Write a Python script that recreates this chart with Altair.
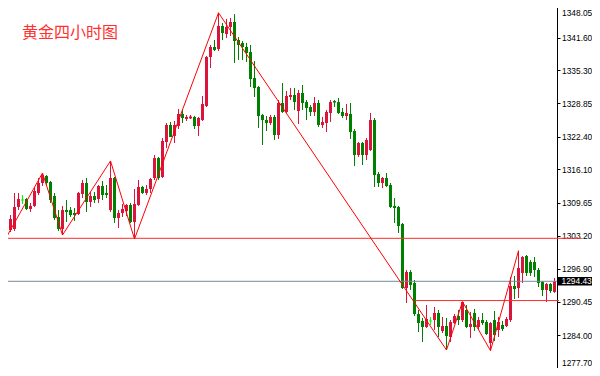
import altair as alt
import pandas as pd

# ---------------- data ----------------
title_text = "黄金四小时图"

opens = [1306.68, 1303.78, 1304.36, 1304.56, 1308.81, 1310.17, 1310.36, 1308.43, 1309.01, 1311.52,
         1313.46, 1314.81, 1313.65, 1310.94, 1306.88, 1304.56, 1308.23, 1308.23, 1307.65, 1307.46,
         1311.33, 1313.46, 1309.78, 1310.94, 1310.36, 1312.88, 1311.52, 1308.23, 1314.42, 1306.68,
         1307.65, 1308.04, 1309.20, 1305.91, 1309.20, 1312.68, 1311.52, 1312.30, 1314.42, 1318.29,
         1314.62, 1321.39, 1324.68, 1322.56, 1324.49, 1326.82, 1325.85, 1325.95, 1326.24, 1324.49,
         1325.65, 1328.36, 1337.85, 1339.78, 1339.40, 1343.85, 1342.30, 1343.65, 1344.62, 1341.14,
         1340.56, 1339.78, 1338.81, 1333.78, 1332.04, 1326.62, 1325.65, 1325.07, 1326.24, 1322.75,
         1328.94, 1327.20, 1330.10, 1330.49, 1327.39, 1330.88, 1329.13, 1328.17, 1327.20, 1328.94,
         1324.68, 1325.07, 1327.01, 1329.33, 1329.13, 1327.20, 1326.43, 1326.82, 1323.52, 1318.87,
         1321.20, 1318.87, 1319.84, 1325.65, 1315.20, 1313.46, 1314.42, 1313.07, 1309.01, 1308.81,
         1305.52, 1293.13, 1296.23, 1294.10, 1288.10, 1286.75, 1285.58, 1286.75, 1286.94, 1288.29,
         1284.81, 1285.78, 1283.65, 1286.36, 1287.71, 1286.94, 1288.87, 1285.58, 1288.29, 1285.58,
         1286.94, 1286.55, 1282.49, 1286.94, 1285.00, 1285.97, 1285.78, 1286.94, 1293.52, 1293.13,
         1296.04, 1299.33, 1298.17, 1298.17, 1296.62, 1294.30, 1292.75, 1293.91, 1292.36]

highs = [1307.84, 1305.33, 1307.26, 1311.52, 1311.52, 1311.13, 1310.55, 1309.59, 1312.68, 1314.42,
         1315.39, 1315.00, 1313.85, 1311.52, 1308.23, 1309.01, 1310.17, 1308.81, 1308.62, 1311.72,
         1314.04, 1314.42, 1311.72, 1311.72, 1313.07, 1313.85, 1313.07, 1317.72, 1314.62, 1308.23,
         1309.39, 1309.39, 1309.59, 1312.30, 1314.04, 1312.88, 1313.07, 1314.42, 1318.87, 1318.49,
         1322.17, 1325.07, 1325.26, 1325.46, 1327.78, 1327.59, 1326.62, 1326.62, 1326.43, 1326.24,
         1330.30, 1338.04, 1340.17, 1341.14, 1346.40, 1344.43, 1345.20, 1345.40, 1346.17, 1341.72,
         1340.94, 1340.56, 1340.17, 1337.07, 1332.23, 1326.82, 1326.43, 1326.62, 1326.62, 1329.52,
         1332.81, 1331.27, 1331.85, 1331.85, 1331.46, 1332.43, 1329.52, 1328.55, 1330.10, 1329.52,
         1326.24, 1327.59, 1329.52, 1329.52, 1329.91, 1327.97, 1328.75, 1328.94, 1323.91, 1321.39,
         1321.39, 1322.17, 1327.01, 1326.04, 1315.59, 1314.62, 1315.39, 1313.46, 1310.55, 1309.01,
         1305.72, 1296.62, 1296.62, 1294.68, 1288.87, 1287.33, 1289.84, 1287.52, 1289.46, 1288.87,
         1287.52, 1287.33, 1286.94, 1288.10, 1288.87, 1290.48, 1289.84, 1288.49, 1289.07, 1287.52,
         1288.29, 1286.94, 1286.55, 1288.68, 1287.52, 1286.75, 1287.52, 1295.26, 1295.46, 1300.35,
         1299.33, 1299.52, 1298.55, 1299.13, 1297.00, 1294.49, 1294.10, 1294.10, 1295.07]

lows = [1303.59, 1303.00, 1303.97, 1304.17, 1308.23, 1309.39, 1308.23, 1307.84, 1308.81, 1311.13,
        1312.88, 1313.07, 1309.59, 1306.30, 1304.17, 1303.39, 1305.91, 1306.88, 1306.11, 1307.26,
        1310.55, 1307.84, 1308.81, 1309.59, 1309.59, 1310.17, 1310.55, 1307.84, 1305.72, 1304.75,
        1306.88, 1307.07, 1305.72, 1302.62, 1309.01, 1311.33, 1311.13, 1311.52, 1314.04, 1314.04,
        1314.42, 1320.23, 1322.36, 1321.20, 1323.91, 1325.07, 1325.46, 1325.85, 1323.91, 1322.56,
        1325.46, 1328.17, 1335.72, 1339.01, 1339.01, 1341.14, 1341.52, 1341.91, 1336.69, 1337.27,
        1337.27, 1336.88, 1332.04, 1330.10, 1324.10, 1320.81, 1323.52, 1324.68, 1321.78, 1321.98,
        1327.01, 1327.01, 1329.52, 1327.59, 1324.88, 1327.59, 1325.65, 1326.43, 1326.43, 1324.30,
        1324.10, 1323.33, 1325.26, 1328.17, 1326.82, 1326.04, 1325.65, 1321.98, 1316.75, 1318.49,
        1316.94, 1317.91, 1319.65, 1312.68, 1312.68, 1312.49, 1312.68, 1308.62, 1305.72, 1303.78,
        1292.94, 1290.23, 1292.75, 1287.71, 1284.61, 1282.68, 1285.39, 1285.97, 1285.00, 1283.65,
        1284.42, 1281.13, 1282.68, 1286.17, 1285.97, 1286.55, 1285.39, 1283.46, 1284.81, 1285.00,
        1285.97, 1284.03, 1281.00, 1282.87, 1283.65, 1284.81, 1285.58, 1286.55, 1291.00, 1291.20,
        1294.10, 1295.46, 1295.46, 1295.26, 1293.33, 1291.58, 1290.42, 1292.17, 1292.17]

closes = [1303.78, 1304.56, 1306.49, 1308.81, 1310.36, 1310.17, 1308.43, 1309.01, 1311.91, 1313.46,
          1315.00, 1313.46, 1310.17, 1306.68, 1304.56, 1308.23, 1307.84, 1307.26, 1307.26, 1311.52,
          1313.46, 1309.78, 1310.94, 1310.17, 1312.88, 1311.13, 1311.13, 1314.42, 1306.68, 1307.65,
          1308.43, 1309.20, 1305.91, 1309.39, 1312.68, 1311.52, 1312.30, 1314.23, 1318.29, 1314.42,
          1321.59, 1324.68, 1322.36, 1324.68, 1326.82, 1326.04, 1326.24, 1326.33, 1324.49, 1326.04,
          1328.75, 1337.85, 1339.78, 1339.20, 1343.85, 1342.49, 1343.65, 1344.62, 1340.94, 1340.17,
          1339.78, 1338.62, 1333.59, 1331.85, 1326.43, 1325.65, 1325.07, 1326.24, 1322.75, 1328.94,
          1327.20, 1330.30, 1330.49, 1329.13, 1330.88, 1328.94, 1327.97, 1327.20, 1328.94, 1324.68,
          1325.26, 1327.20, 1329.13, 1329.04, 1327.01, 1326.43, 1327.01, 1323.33, 1318.87, 1321.20,
          1318.87, 1321.78, 1325.65, 1315.00, 1313.46, 1314.42, 1312.88, 1308.81, 1308.62, 1305.14,
          1293.13, 1296.23, 1293.71, 1288.10, 1286.36, 1285.58, 1287.13, 1286.75, 1288.29, 1285.58,
          1285.78, 1283.84, 1286.55, 1287.71, 1286.94, 1290.42, 1285.58, 1286.17, 1285.58, 1286.94,
          1286.36, 1284.23, 1286.36, 1284.03, 1286.55, 1285.20, 1287.13, 1293.52, 1292.94, 1297.00,
          1299.13, 1296.04, 1296.04, 1296.62, 1294.10, 1292.75, 1293.91, 1292.55, 1294.43]

# zigzag pivots: bar index and price
zz_index = [-0.625, 1, 10, 15, 27, 33, 54, 111, 115, 122, 129]
zz_price = [1303.97, 1303.00, 1315.39, 1303.39, 1317.72, 1302.62, 1346.40, 1281.13, 1290.48, 1281.00, 1300.35]

tick_values = [1348.05, 1341.60, 1335.30, 1328.85, 1322.40, 1316.10,
               1309.65, 1303.20, 1296.90, 1290.45, 1284.00, 1277.70]
last_price = 1294.43
upper_level = 1302.75
lower_level = 1290.70
lower_level_start = 103.2

# ---------------- tables ----------------
n = len(opens)
df = pd.DataFrame({"i": list(range(n)), "o": opens, "h": highs, "l": lows, "c": closes})
df["dir"] = ["doji" if o == c else ("up" if c > o else "down") for o, c in zip(df.o, df.c)]
df["x1"] = df["i"] - 0.375
df["x2"] = df["i"] + 0.375

zz = pd.DataFrame({"i": zz_index, "p": zz_price, "k": list(range(len(zz_index)))})

PLOT_W = 557
PLOT_H = 368
PX_PER_BAR = 4.0
PX_PER_UNIT = 5.166
X0 = -0.625
Y_TOP = 1348.88

xs = alt.Scale(domain=[X0, X0 + PLOT_W / PX_PER_BAR], nice=False, zero=False)
ys = alt.Scale(domain=[Y_TOP - PLOT_H / PX_PER_UNIT, Y_TOP], nice=False, zero=False)
cs = alt.Scale(domain=["up", "down", "doji"], range=["#dc143c", "#008000", "#00ff00"])

axis_font = "Liberation Sans"
axis_size = 8.4

wicks = alt.Chart(df).mark_rule(strokeWidth=1).encode(
    x=alt.X("i:Q", scale=xs, axis=None),
    y=alt.Y("l:Q", scale=ys, axis=alt.Axis(
        orient="right", values=tick_values, format=".2f", title=None, grid=False,
        domainColor="#000000", domainWidth=1, tickColor="#000000", tickSize=3, tickWidth=1,
        labelColor="#000000", labelFont=axis_font, labelFontSize=axis_size, labelPadding=1.5,
        labelOverlap=False,
        labelOffset={"condition": {"test": "datum.value > 1345", "value": 8}, "value": 0},
        labelBaseline={"condition": {"test": "datum.value < 1280", "value": "bottom"}, "value": "middle"},
    )),
    y2="h:Q",
    color=alt.Color("dir:N", scale=cs, legend=None),
)

bodies = alt.Chart(df).mark_rect().encode(
    x=alt.X("x1:Q", scale=xs, axis=None),
    x2="x2:Q",
    y=alt.Y("o:Q", scale=ys, axis=None),
    y2="c:Q",
    color=alt.Color("dir:N", scale=cs, legend=None),
)

dojis = alt.Chart(df).transform_filter(alt.datum.dir == "doji").mark_rule(strokeWidth=1).encode(
    x=alt.X("x1:Q", scale=xs, axis=None),
    x2="x2:Q",
    y=alt.Y("o:Q", scale=ys, axis=None),
    color=alt.Color("dir:N", scale=cs, legend=None),
)

zigzag = alt.Chart(zz).mark_line(color="#ff0000", strokeWidth=1).encode(
    x=alt.X("i:Q", scale=xs, axis=None),
    y=alt.Y("p:Q", scale=ys, axis=None),
    order="k:Q",
)

lv_up = pd.DataFrame({"i": [X0], "p": [upper_level]})
lv_lo = pd.DataFrame({"i": [lower_level_start], "p": [lower_level]})
lv_last = pd.DataFrame({"i": [X0], "p": [last_price]})

upper_line = alt.Chart(lv_up).mark_rule(color="#ff2a2a", strokeWidth=1).encode(
    x=alt.X("i:Q", scale=xs, axis=None), x2=alt.value(581), y=alt.Y("p:Q", scale=ys, axis=None))
lower_line = alt.Chart(lv_lo).mark_rule(color="#ff2a2a", strokeWidth=1).encode(
    x=alt.X("i:Q", scale=xs, axis=None), x2=alt.value(PLOT_W + 2), y=alt.Y("p:Q", scale=ys, axis=None))
last_line = alt.Chart(lv_last).mark_rule(color="#778899", strokeWidth=1).encode(
    x=alt.X("i:Q", scale=xs, axis=None), x2=alt.value(PLOT_W), y=alt.Y("p:Q", scale=ys, axis=None))

box = pd.DataFrame({"hi": [last_price + 0.82], "lo": [last_price - 0.82], "p": [last_price],
                    "t": [f"{last_price:.2f}"]})
price_box = alt.Chart(box).mark_rect(color="#000000").encode(
    x=alt.value(PLOT_W + 1), x2=alt.value(PLOT_W + 45), y=alt.Y("hi:Q", scale=ys, axis=None), y2="lo:Q")
price_text = alt.Chart(box).mark_text(
    align="left", baseline="middle", color="#ffffff", font=axis_font, fontSize=axis_size).encode(
    x=alt.value(PLOT_W + 4.5), y=alt.Y("p:Q", scale=ys, axis=None), text="t:N")

title = alt.Chart(pd.DataFrame({"t": [title_text]})).mark_text(
    align="left", baseline="middle", color="#ff3030", font="Noto Sans CJK SC", fontSize=16).encode(
    x=alt.value(22), y=alt.value(33), text="t:N")

chart = alt.layer(
    wicks, bodies, dojis, upper_line, lower_line, last_line, zigzag, price_box, price_text, title
).resolve_axis(y="independent", x="independent").properties(
    width=PLOT_W, height=PLOT_H,
    padding={"left": -8, "top": -8, "right": 592 - 8 - PLOT_W + 8, "bottom": 0},
    autosize=alt.AutoSizeParams(type="none"),
    background="#ffffff",
).configure_view(strokeWidth=0).configure_axis(labelOverlap=False)

chart.save("out.html", embed_options={"renderer": "svg", "actions": False})
